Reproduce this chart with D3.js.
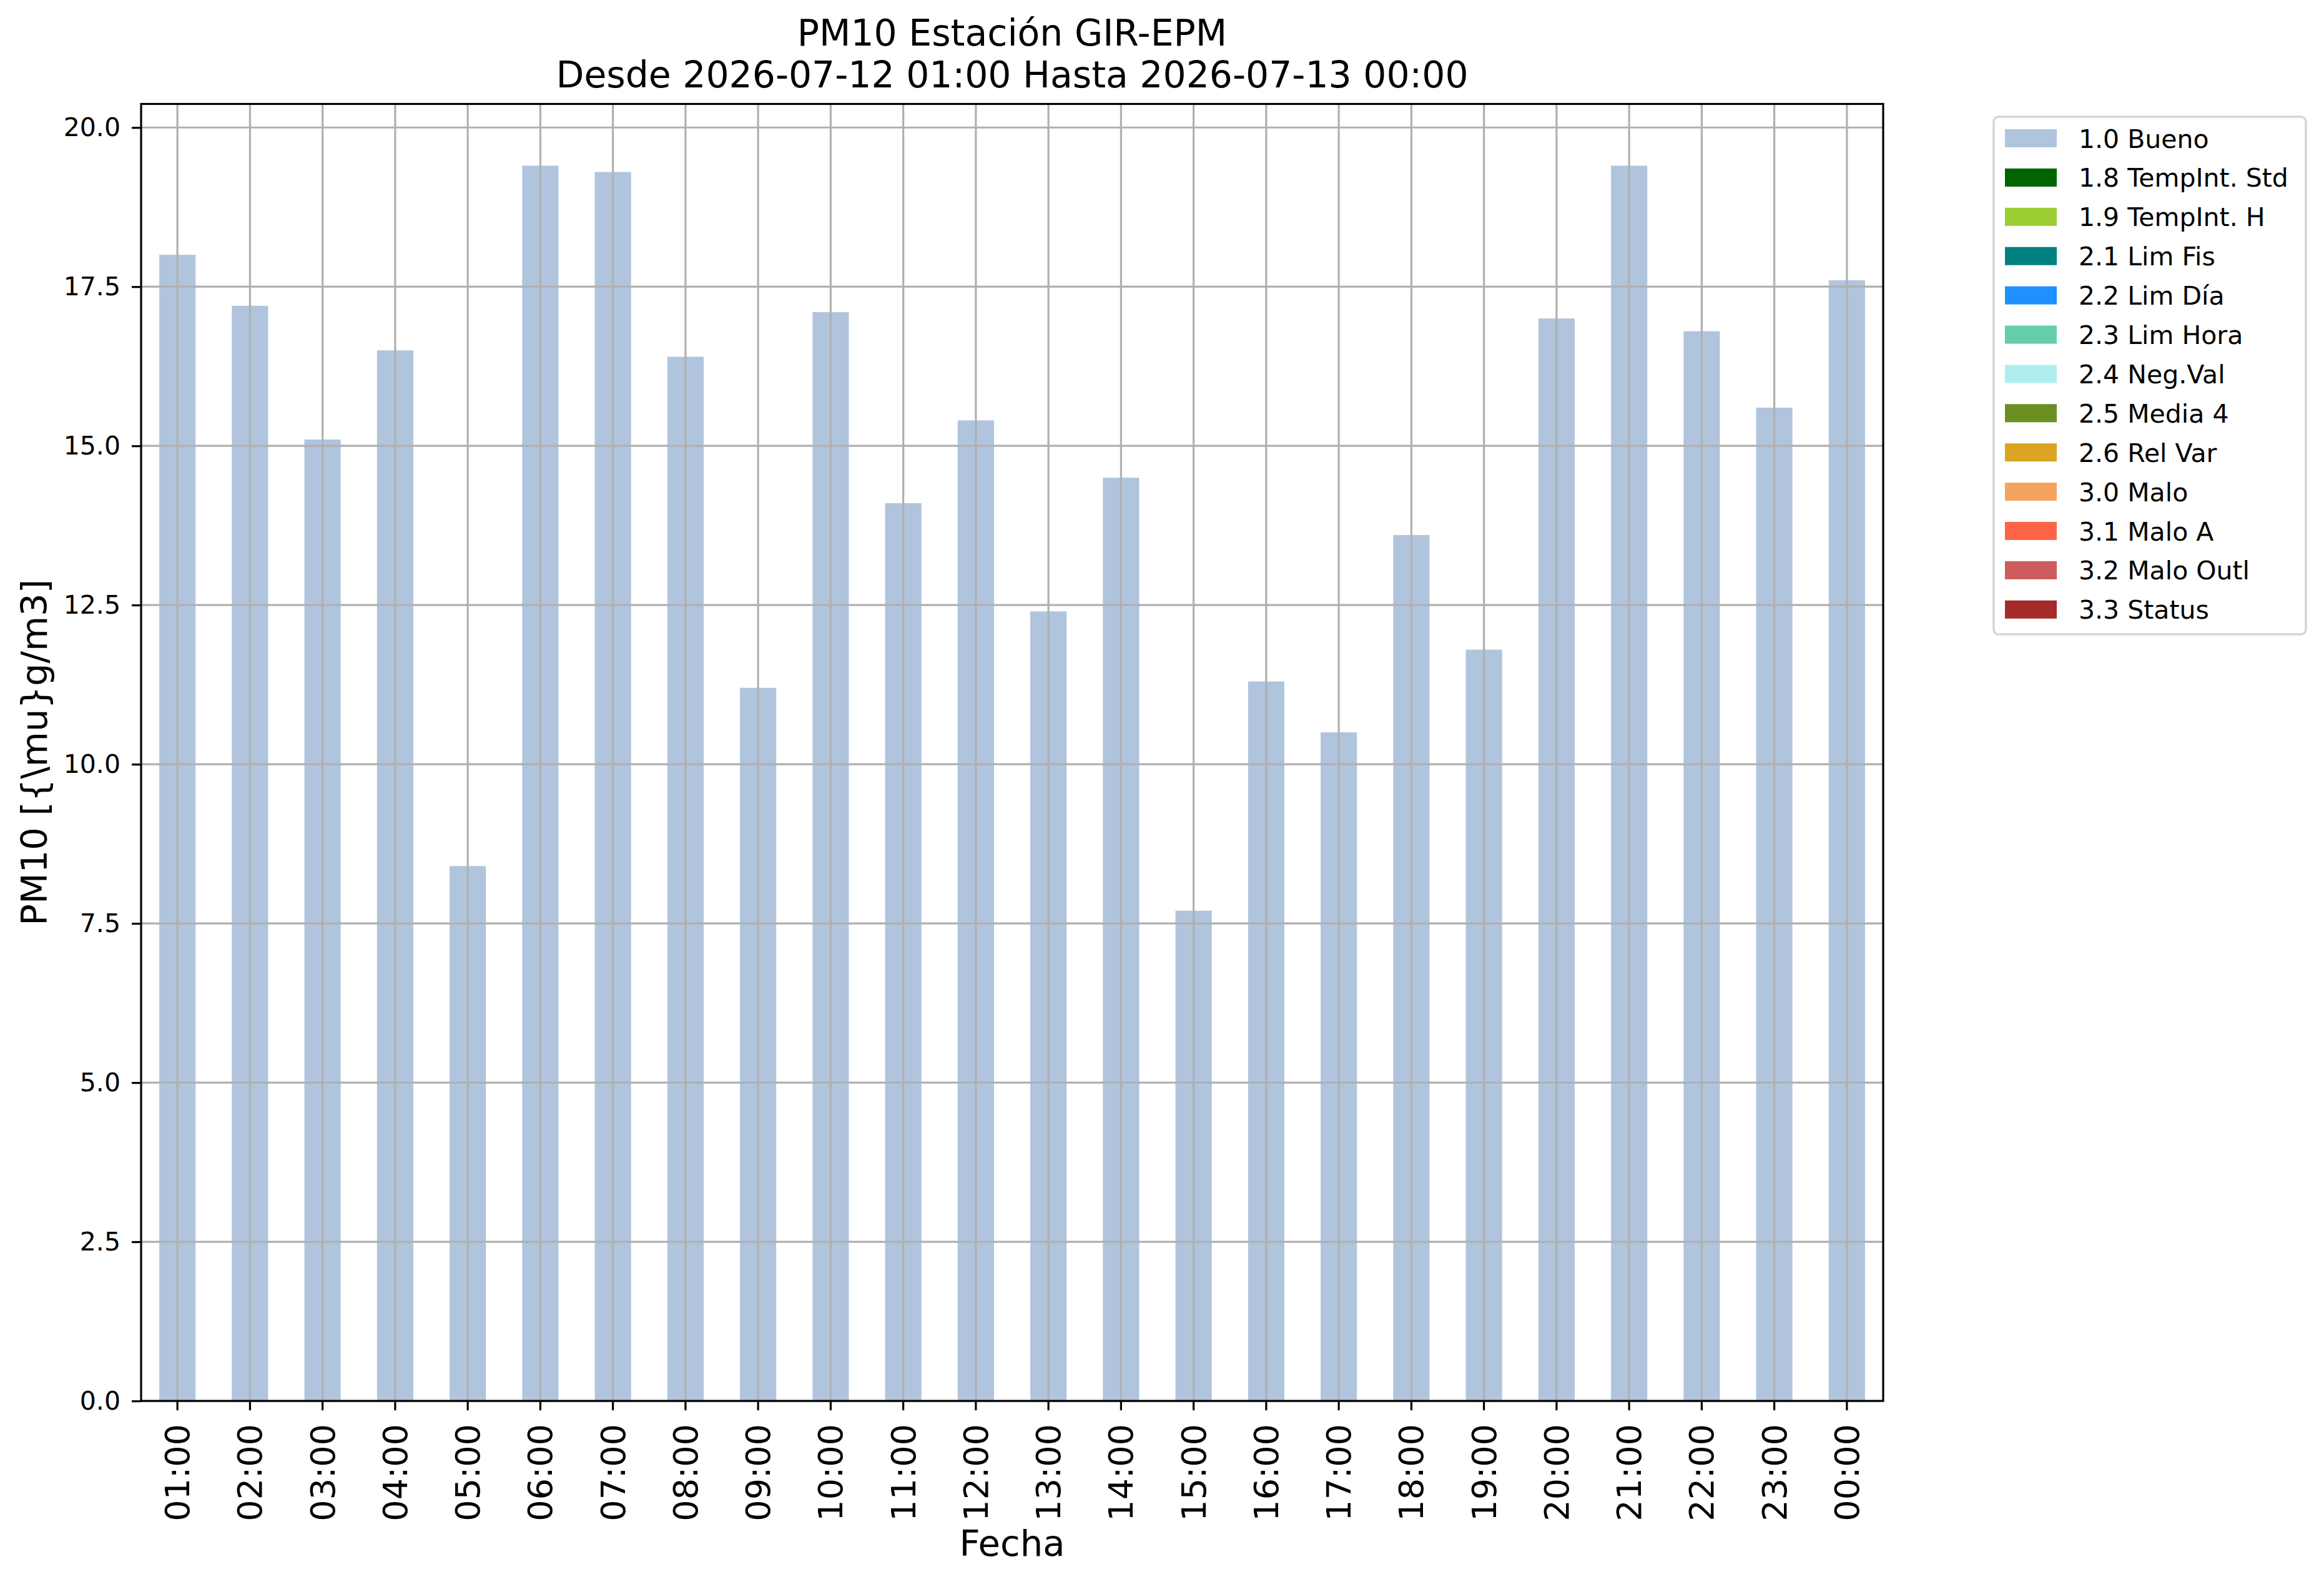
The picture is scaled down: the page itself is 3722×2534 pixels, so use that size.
<!DOCTYPE html>
<html>
<head>
<meta charset="utf-8">
<script src="https://cdn.jsdelivr.net/npm/d3@7"></script>
<style>
    body { margin: 0; background: #ffffff; }
    svg text { font-family: "DejaVu Sans", sans-serif; fill: #000; }
    .grid-line { stroke: #b0b0b0; stroke-width: 3.2; }
    .domain { display: none; }
</style>
</head>
<body>
<div id="chart"></div>
<script>
const hours = ["01:00", "02:00", "03:00", "04:00", "05:00", "06:00", "07:00", "08:00",
    "09:00", "10:00", "11:00", "12:00", "13:00", "14:00", "15:00", "16:00",
    "17:00", "18:00", "19:00", "20:00", "21:00", "22:00", "23:00", "00:00"];
const pm10Values = [18.0, 17.2, 15.1, 16.5, 8.4, 19.4, 19.3, 16.4,
    11.2, 17.1, 14.1, 15.4, 12.4, 14.5, 7.7, 11.3,
    10.5, 13.6, 11.8, 17.0, 19.4, 16.8, 15.6, 17.6];
const yTicks = [0, 2.5, 5, 7.5, 10, 12.5, 15, 17.5, 20];
const legendLabels = ["1.0 Bueno", "1.8 TempInt. Std", "1.9 TempInt. H", "2.1 Lim Fis", "2.2 Lim Día",
    "2.3 Lim Hora", "2.4 Neg.Val", "2.5 Media 4", "2.6 Rel Var", "3.0 Malo",
    "3.1 Malo A", "3.2 Malo Outl", "3.3 Status"];
const legendColors = ["#b0c4de", "#006400", "#9acd32", "#008080", "#1e90ff",
    "#66cdaa", "#afeeee", "#6b8e23", "#daa520", "#f4a460",
    "#ff6347", "#cd5c5c", "#a52a2a"];
const titleLines = ["PM10 Estación GIR-EPM", "Desde 2026-07-12 01:00 Hasta 2026-07-13 00:00"];

const W = 3722, H = 2534;
const margin = { top: 166.5, right: 706, bottom: 290, left: 226 };
const width = W - margin.left - margin.right;
const height = H - margin.top - margin.bottom;

const svg = d3.select("#chart")
    .append("svg")
    .attr("width", W)
    .attr("height", H);

svg.append("rect").attr("width", W).attr("height", H).attr("fill", "#fff");

const g = svg.append("g")
    .attr("transform", `translate(${margin.left},${margin.top})`);

const xScale = d3.scaleBand()
    .domain(hours)
    .range([0, width])
    .paddingInner(0.5)
    .paddingOuter(0.25);

// pandas style: top at max * 1.05
const yScale = d3.scaleLinear()
    .domain([0, d3.max(pm10Values) * 1.05])
    .range([height, 0]);

// bars
g.selectAll(".bar")
    .data(pm10Values)
    .enter()
    .append("rect")
    .attr("class", "bar")
    .attr("x", (d, i) => xScale(hours[i]))
    .attr("width", xScale.bandwidth())
    .attr("y", d => yScale(d))
    .attr("height", d => height - yScale(d))
    .attr("fill", legendColors[0]);

// grid on top of bars
g.selectAll(".x-grid")
    .data(hours)
    .enter()
    .append("line")
    .attr("class", "grid-line")
    .attr("x1", d => xScale(d) + xScale.bandwidth() / 2)
    .attr("x2", d => xScale(d) + xScale.bandwidth() / 2)
    .attr("y1", 0)
    .attr("y2", height);

g.selectAll(".y-grid")
    .data(yTicks)
    .enter()
    .append("line")
    .attr("class", "grid-line")
    .attr("x1", 0)
    .attr("x2", width)
    .attr("y1", d => yScale(d))
    .attr("y2", d => yScale(d));

// axes
const xAxis = g.append("g")
    .attr("transform", `translate(0,${height})`)
    .call(d3.axisBottom(xScale).tickSize(15).tickPadding(0));

xAxis.selectAll(".tick line").attr("stroke", "#000").attr("stroke-width", 3.2);
xAxis.selectAll(".tick text")
    .attr("transform", "translate(0,37) rotate(-90)")
    .attr("x", 0)
    .attr("y", 0)
    .attr("dy", "0.35em")
    .attr("text-anchor", "end")
    .style("font-size", "54px");

const yAxis = g.append("g")
    .call(d3.axisLeft(yScale).tickValues(yTicks).tickFormat(d3.format(".1f")).tickSize(15).tickPadding(18));

yAxis.selectAll(".tick line").attr("stroke", "#000").attr("stroke-width", 3.2);
yAxis.selectAll(".tick text").style("font-size", "41px");

// frame
g.append("rect")
    .attr("x", 0)
    .attr("y", 0)
    .attr("width", width)
    .attr("height", height)
    .attr("fill", "none")
    .attr("stroke", "#000")
    .attr("stroke-width", 3.2);

// labels
svg.append("text")
    .attr("x", margin.left + width / 2)
    .attr("y", 2492)
    .attr("text-anchor", "middle")
    .style("font-size", "57.6px")
    .text("Fecha");

svg.append("text")
    .attr("transform", `translate(75,${margin.top + height / 2}) rotate(-90)`)
    .attr("text-anchor", "middle")
    .style("font-size", "57.6px")
    .text("PM10 [{\\mu}g/m3]");

svg.selectAll(".title-line")
    .data(titleLines)
    .enter()
    .append("text")
    .attr("class", "title-line")
    .attr("x", margin.left + width / 2)
    .attr("y", (d, i) => 73 + i * 67)
    .attr("text-anchor", "middle")
    .style("font-size", "58.4px")
    .text(d => d);

// legend
const legend = svg.append("g").attr("transform", "translate(3193,187)");

legend.append("rect")
    .attr("x", 0)
    .attr("y", 0)
    .attr("width", 500)
    .attr("height", 829)
    .attr("rx", 8)
    .attr("fill", "#fff")
    .attr("stroke", "#d6d6d6")
    .attr("stroke-width", 3.6);

const rowPitch = 62.9;
const items = legend.selectAll(".legend-item")
    .data(legendLabels)
    .enter()
    .append("g")
    .attr("class", "legend-item")
    .attr("transform", (d, i) => `translate(0,${34.5 + i * rowPitch})`);

items.append("rect")
    .attr("x", 18)
    .attr("y", -14.5)
    .attr("width", 83)
    .attr("height", 29)
    .attr("fill", (d, i) => legendColors[i]);

items.append("text")
    .attr("x", 136)
    .attr("y", 15)
    .style("font-size", "41px")
    .text(d => d);
</script>
</body>
</html>
